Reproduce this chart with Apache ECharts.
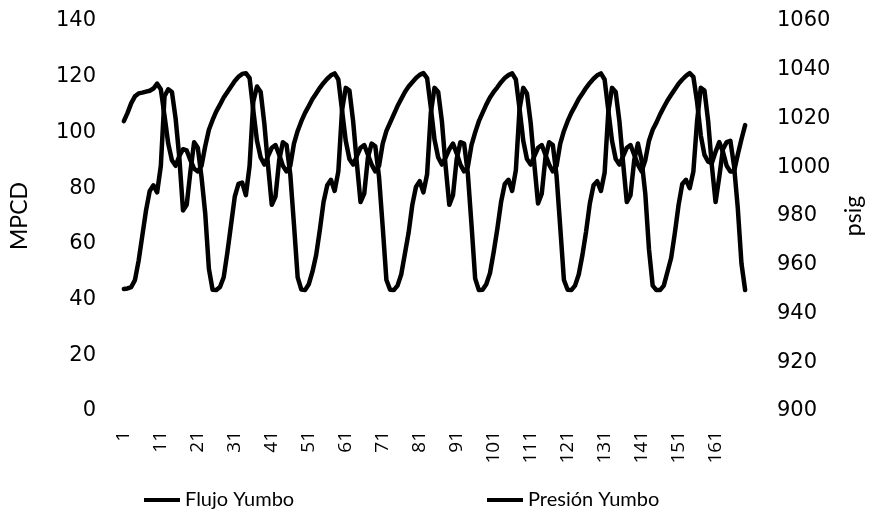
<!DOCTYPE html>
<html>
<head>
<meta charset="utf-8">
<script src="https://cdn.jsdelivr.net/npm/echarts@6/dist/echarts.min.js"></script>
<style>
  html, body { margin: 0; padding: 0; background: #fff; }
  #chart { width: 873px; height: 517px; }
</style>
</head>
<body>
<div id="chart"></div>
<script>
// Sample numbers 1..169 along the horizontal axis
const categories = Array.from({ length: 169 }, (_, i) => String(i + 1));

// Gas flow, MPCD (left axis)
const flujoYumbo = [
  43.8, 44, 44.5, 47, 54, 63, 72, 79, 81, 78.5, 88, 113, 115.5, 114.5, 105, 91, 72, 74, 86, 96.5, 94.5, 84, 71, 51,
  43.5, 43.4, 44.5, 48, 57, 67, 77, 81.5, 82, 77.5, 88, 111, 116.5, 114.5, 103, 88, 74, 77, 90, 96.5, 95.5, 85, 67, 48,
  43.6, 43.4, 45.5, 50, 56, 65, 75, 81, 83, 79, 86, 108, 116, 115, 104, 89, 75, 78, 91, 96, 95, 84, 66, 47,
  43.5, 43.4, 45, 49, 56.5, 64, 74, 80.5, 82.5, 78.5, 85, 107, 116, 114.5, 104, 88, 74, 77.5, 90.5, 96.5, 96, 85.5, 67, 47.5,
  43.4, 43.5, 45.5, 49.5, 57, 65.5, 75, 81.5, 83, 79, 86.5, 108.5, 116, 114, 103.5, 88.5, 74.5, 78, 91, 96.5, 95.5, 84.5, 66, 47,
  43.5, 43.4, 45, 49, 56, 64.5, 74.5, 81, 82.5, 79, 85.5, 107.5, 116, 114.5, 104, 89, 75, 77.5, 90, 96, 90, 78, 58, 45,
  43.4, 43.4, 45, 50, 55, 64, 74, 81.5, 83, 80, 86, 104, 116, 115, 104, 88, 75, 84, 94, 96.5, 97, 88, 73, 53,
  43.4
];

// Pressure, psig (right axis)
const presionYumbo = [
  1018.9, 1022.3, 1026.3, 1029.1, 1030.3, 1030.6, 1031.0, 1031.4, 1032.3, 1034.3, 1032.0, 1021.1, 1009.7, 1002.9, 1000.6, 1004.6, 1007.4, 1006.9, 1002.9, 999.4, 998.3, 1000.6, 1008.6, 1015.4,
  1019.4, 1022.9, 1025.7, 1028.6, 1030.9, 1033.1, 1035.4, 1037.1, 1038.3, 1038.6, 1036.6, 1023.4, 1010.9, 1004.0, 1001.1, 1004.6, 1008.0, 1009.1, 1005.1, 1000.6, 998.3, 1000.6, 1009.7, 1014.9,
  1018.9, 1022.3, 1025.1, 1028.0, 1030.3, 1032.6, 1034.6, 1036.3, 1037.7, 1038.5, 1036.0, 1023.4, 1010.9, 1003.4, 1001.1, 1004.6, 1008.0, 1009.1, 1005.1, 1001.1, 998.3, 1000.6, 1009.7, 1014.9,
  1018.3, 1021.7, 1025.1, 1028.0, 1030.9, 1033.1, 1034.9, 1036.6, 1037.9, 1038.6, 1036.6, 1024.6, 1011.4, 1004.0, 1001.1, 1004.0, 1007.4, 1009.7, 1005.7, 1001.1, 998.3, 1000.0, 1009.1, 1014.3,
  1018.9, 1022.3, 1025.7, 1028.6, 1030.9, 1032.8, 1034.9, 1036.6, 1037.8, 1038.5, 1036.0, 1024.0, 1010.9, 1003.4, 1001.1, 1004.6, 1008.0, 1009.1, 1005.1, 1001.1, 998.3, 1000.6, 1009.7, 1014.9,
  1018.9, 1022.3, 1025.1, 1028.0, 1030.3, 1032.6, 1034.6, 1036.3, 1037.7, 1038.5, 1036.0, 1023.4, 1010.9, 1003.4, 1001.1, 1004.6, 1008.0, 1009.1, 1005.1, 1001.1, 998.3, 1002.9, 1010.9, 1015.4,
  1018.3, 1021.7, 1024.6, 1027.4, 1029.7, 1032.0, 1034.3, 1036.0, 1037.5, 1038.6, 1037.1, 1026.9, 1013.1, 1005.1, 1002.3, 1001.7, 1006.3, 1010.3, 1006.3, 1000.6, 998.3, 998.3, 1005.1, 1011.5,
  1017.3
];

const INK = '#000';
const TICK_FONT = 'DejaVu Sans';
const TEXT_FONT = 'Lato';

const chart = echarts.init(document.getElementById('chart'), null, { renderer: 'canvas' });

const lineStyle = { color: INK, width: 4.5, cap: 'round', join: 'round' };
const legendText = { fontFamily: TEXT_FONT, fontSize: 20, color: INK };

chart.setOption({
  backgroundColor: '#fff',
  animation: false,
  textStyle: { fontFamily: TEXT_FONT, color: INK },
  grid: { left: 121, right: 116, top: 21, bottom: 106, containLabel: false },
  legend: [
    {
      data: ['Flujo Yumbo'],
      left: 139, top: 485,
      icon: 'rect', itemWidth: 36, itemHeight: 4,
      textStyle: legendText
    },
    {
      data: ['Presión Yumbo'],
      left: 482, top: 485,
      icon: 'rect', itemWidth: 36, itemHeight: 4,
      textStyle: legendText
    }
  ],
  xAxis: {
    type: 'category',
    data: categories,
    boundaryGap: true,
    axisLine: { show: false },
    axisTick: { show: false },
    splitLine: { show: false },
    axisLabel: {
      interval: 9,
      rotate: 90,
      margin: 20,
      fontFamily: 'Open Sans',
      fontSize: 19,
      color: INK
    }
  },
  yAxis: [
    {
      type: 'value',
      min: 0, max: 140, interval: 20,
      name: 'MPCD',
      nameLocation: 'middle',
      nameRotate: 90,
      nameGap: 91,
      nameTextStyle: { fontFamily: TEXT_FONT, fontSize: 23, color: INK },
      axisLine: { show: false },
      axisTick: { show: false },
      splitLine: { show: false },
      axisLabel: { margin: 26, fontFamily: TICK_FONT, fontSize: 21, color: INK }
    },
    {
      type: 'value',
      min: 900, max: 1060, interval: 20,
      name: 'psig',
      nameLocation: 'middle',
      nameRotate: 90,
      nameGap: 95,
      nameTextStyle: { fontFamily: TEXT_FONT, fontSize: 23, color: INK },
      axisLine: { show: false },
      axisTick: { show: false },
      splitLine: { show: false },
      axisLabel: {
        margin: 30, fontFamily: TICK_FONT, fontSize: 21, color: INK,
        formatter: (v) => String(v)
      }
    }
  ],
  series: [
    {
      name: 'Flujo Yumbo',
      type: 'line',
      yAxisIndex: 0,
      data: flujoYumbo,
      symbol: 'none',
      lineStyle: lineStyle,
      itemStyle: { color: INK }
    },
    {
      name: 'Presión Yumbo',
      type: 'line',
      yAxisIndex: 1,
      data: presionYumbo,
      symbol: 'none',
      lineStyle: lineStyle,
      itemStyle: { color: INK }
    }
  ]
});
</script>
</body>
</html>
